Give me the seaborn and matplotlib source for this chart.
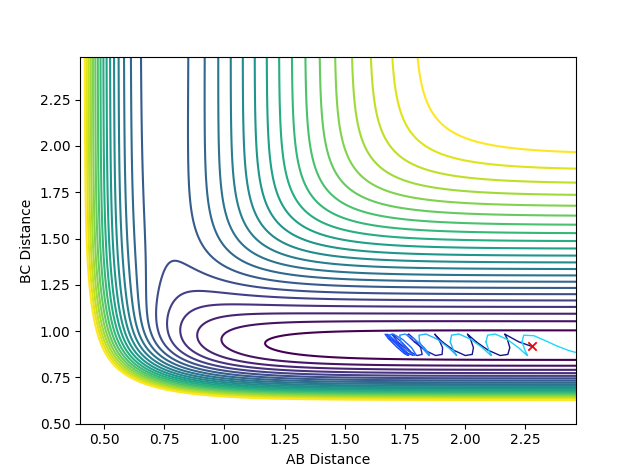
import numpy as np
import pandas as pd
import matplotlib
matplotlib.use("Agg")
import matplotlib.pyplot as plt
import seaborn as sns

# ---- LEPS surface parameters (pairs H-H and H-F), energies in eV, distances in Angstrom
PAIR_D = {"HH": 4.7466, "HF": 6.122}
PAIR_BETA = {"HH": 1.942, "HF": 2.2187}
PAIR_RE = {"HH": 0.7419, "HF": 0.917}
PAIR_SATO = {"HH": 0.215, "HF": 0.167}

AB_RANGE = [0.40, 2.46]
BC_RANGE = [0.50, 2.48]
LEVEL_LOW = -5.935
LEVEL_HIGH = -1.16
N_LEVELS = 22

START_POINT = (2.277, 0.917)

# ---- trajectory, in time order, one list per colour band
TRAJ_SEGMENTS = [
    [(2.277, 0.917), (2.223, 0.9415), (2.172, 0.978), (2.164, 0.984), (2.175, 0.956),
     (2.185, 0.9105), (2.177, 0.874), (2.145, 0.868), (2.096, 0.896), (2.046, 0.9415)],
    [(2.014, 0.978), (2.009, 0.984), (2.022, 0.956), (2.034, 0.9105), (2.029, 0.874),
     (2.000, 0.868), (1.953, 0.896), (1.905, 0.9415)],
    [(1.876, 0.978), (1.874, 0.984), (1.890, 0.956), (1.906, 0.9105), (1.904, 0.874),
     (1.877, 0.868), (1.833, 0.896), (1.789, 0.9415)],
    [(1.759, 0.978), (1.765, 0.984), (1.790, 0.956), (1.815, 0.9105), (1.821, 0.874),
     (1.800, 0.868), (1.760, 0.896), (1.720, 0.9415)],
    [(1.695, 0.9831), (1.707, 0.9735), (1.739, 0.9361), (1.771, 0.8927), (1.783, 0.8689),
     (1.764, 0.8785), (1.726, 0.9159), (1.688, 0.9593)],
    [(1.675, 0.9831), (1.687, 0.9735), (1.718, 0.9361), (1.749, 0.8927), (1.761, 0.8689),
     (1.747, 0.8785), (1.714, 0.9159), (1.681, 0.9593)],
    [(1.667, 0.9831), (1.682, 0.9735), (1.716, 0.9361), (1.750, 0.8927), (1.765, 0.8689),
     (1.754, 0.8785), (1.724, 0.9159), (1.694, 0.9593)],
    [(1.682, 0.978), (1.701, 0.984), (1.739, 0.956), (1.777, 0.9105), (1.795, 0.874),
     (1.787, 0.868), (1.760, 0.896), (1.733, 0.9415)],
    [(1.728, 0.978), (1.750, 0.984), (1.790, 0.956), (1.830, 0.9105), (1.852, 0.874),
     (1.850, 0.868), (1.830, 0.896), (1.810, 0.9415)],
    [(1.808, 0.978), (1.837, 0.984), (1.884, 0.956), (1.931, 0.9105), (1.960, 0.874),
     (1.964, 0.868), (1.951, 0.896), (1.938, 0.9415)],
    [(1.943, 0.978), (1.974, 0.984), (2.023, 0.956), (2.071, 0.9105), (2.102, 0.874),
     (2.109, 0.868), (2.098, 0.896), (2.086, 0.9415)],
    [(2.093, 0.978), (2.124, 0.984), (2.173, 0.956), (2.221, 0.9105), (2.252, 0.874),
     (2.259, 0.868), (2.248, 0.896), (2.236, 0.9415)],
    [(2.243, 0.978), (2.285, 0.975), (2.330, 0.950), (2.380, 0.920), (2.430, 0.895),
     (2.500, 0.870)],
]
TRAJ_COLORS = ["#13138a", "#15158f", "#1a1aa6", "#2424c8", "#1e3ae6", "#1a48f5", "#1a55ff",
               "#2070ff", "#2a90fa", "#22b4f4", "#1ec8f2", "#1ed4f4", "#1adcf8"]


def pair_terms(r, pair):
    d, b, re, k = PAIR_D[pair], PAIR_BETA[pair], PAIR_RE[pair], PAIR_SATO[pair]
    e1 = np.exp(-b * (r - re))
    e2 = e1 * e1
    q = d / 4.0 * ((3 + k) * e2 - (2 + 6 * k) * e1) / (1 + k)
    j = d / 4.0 * ((1 + 3 * k) * e2 - (6 + 2 * k) * e1) / (1 + k)
    return q, j


def leps(r_ab, r_bc):
    r_ac = r_ab + r_bc
    qa, ja = pair_terms(r_ab, "HH")
    qb, jb = pair_terms(r_bc, "HF")
    qc, jc = pair_terms(r_ac, "HF")
    root = np.sqrt(np.maximum(ja**2 + jb**2 + jc**2 - ja * jb - jb * jc - ja * jc, 0))
    return qa + qb + qc - root


ab = np.linspace(AB_RANGE[0], AB_RANGE[1], 420)
bc = np.linspace(BC_RANGE[0], BC_RANGE[1], 420)
AB, BC = np.meshgrid(ab, bc)
V = leps(AB, BC)
levels = np.linspace(LEVEL_LOW, LEVEL_HIGH, N_LEVELS)

fig, ax = plt.subplots(figsize=(6.4, 4.76), dpi=100)
ax.contour(AB, BC, V, levels=levels, cmap="viridis", linewidths=1.5)

rows = []
prev = None
for i, seg in enumerate(TRAJ_SEGMENTS):
    pts = ([prev] if prev is not None else []) + list(seg)
    for x, y in pts:
        rows.append({"ab": x, "bc": y, "seg": f"s{i:02d}"})
    prev = seg[-1]
traj = pd.DataFrame(rows)
palette = {f"s{i:02d}": c for i, c in enumerate(TRAJ_COLORS)}
sns.lineplot(data=traj, x="ab", y="bc", hue="seg", palette=palette, sort=False,
             estimator=None, legend=False, linewidth=1.0, ax=ax, zorder=3)
sns.scatterplot(x=[START_POINT[0]], y=[START_POINT[1]], marker="x", color="red",
                s=36, linewidth=1.3, ax=ax, zorder=5)

ax.set_xlim(AB_RANGE)
ax.set_ylim(BC_RANGE)
ax.set_xlabel("AB Distance")
ax.set_ylabel("BC Distance")
fig.savefig("out.png", dpi=100)
